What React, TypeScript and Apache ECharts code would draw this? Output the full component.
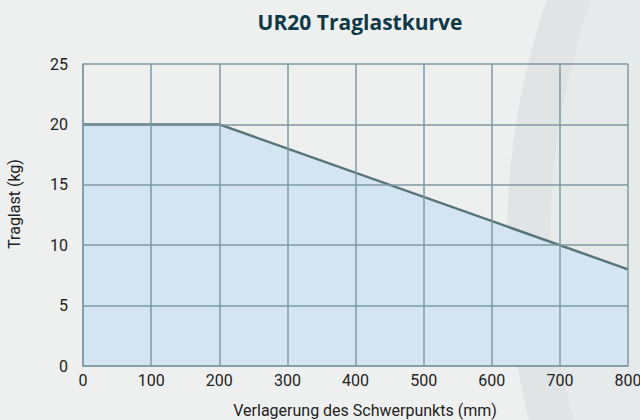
import React, { useEffect, useRef } from "react";
import * as echarts from "echarts";

const xValues = [0, 200, 800];
const loadKg = [20, 20, 8];
const xTicks = [0, 100, 200, 300, 400, 500, 600, 700, 800];
const yTicks = [0, 5, 10, 15, 20, 25];

export default function App() {
  const ref = useRef<HTMLDivElement>(null);
  useEffect(() => {
    if (!ref.current) return;
    const chart = echarts.init(ref.current, null, { renderer: "svg" });
    const gridColor = "#7f99a2";
    const labelFont = { fontFamily: "Roboto", fontSize: 16, color: "#222" };
    chart.setOption({
      animation: false,
      backgroundColor: "#eef0f0",
      graphic: [
        {
          type: "circle",
          silent: true,
          z: -10,
          shape: { cx: 1255, cy: 240, r: 748 },
          style: { fill: "#e1e4e4" },
        },
        {
          type: "circle",
          silent: true,
          z: -9,
          shape: { cx: 1262, cy: 240, r: 712 },
          style: { fill: "#e7eaeb" },
        },
      ],
      title: {
        text: "UR20 Traglastkurve",
        left: 355,
        textAlign: "center",
        top: 6,
        textStyle: {
          fontFamily: "Open Sans",
          fontWeight: "bold",
          fontSize: 21,
          color: "#0e3a47",
        },
      },
      grid: { left: 83, right: 12, top: 64, bottom: 54, outerBoundsMode: "none", containLabel: false },
      xAxis: {
        type: "value",
        z: 5,
        min: xTicks[0],
        max: xTicks[xTicks.length - 1],
        interval: 100,
        name: "Verlagerung des Schwerpunkts (mm)",
        nameLocation: "middle",
        nameGap: 36,
        nameTextStyle: { ...labelFont, padding: [0, 0, 0, 19] },
        axisLine: { show: true, lineStyle: { color: gridColor, width: 1.5 } },
        axisTick: { show: false },
        axisLabel: { ...labelFont, margin: 6 },
        splitLine: { show: true, lineStyle: { color: gridColor, width: 1.5 } },
      },
      yAxis: {
        type: "value",
        z: 5,
        min: yTicks[0],
        max: yTicks[yTicks.length - 1],
        interval: 5,
        name: "Traglast (kg)",
        nameLocation: "middle",
        nameGap: 61,
        nameTextStyle: { ...labelFont, padding: [0, 0, 0, 22] },
        axisLine: { show: true, lineStyle: { color: gridColor, width: 1.5 } },
        axisTick: { show: false },
        axisLabel: { ...labelFont, margin: 15 },
        splitLine: { show: true, lineStyle: { color: gridColor, width: 1.5 } },
      },
      series: [
        {
          type: "line",
          data: xValues.map((x, i) => [x, loadKg[i]]),
          symbol: "none",
          lineStyle: { color: "#587579", width: 2.5 },
          areaStyle: { color: "#d3e5f3", opacity: 1 },
          z: 1,
        },
      ],
    });
    return () => chart.dispose();
  }, []);
  return <div ref={ref} style={{ width: 640, height: 420, position: "absolute", left: 0, top: 0 }} />;
}
